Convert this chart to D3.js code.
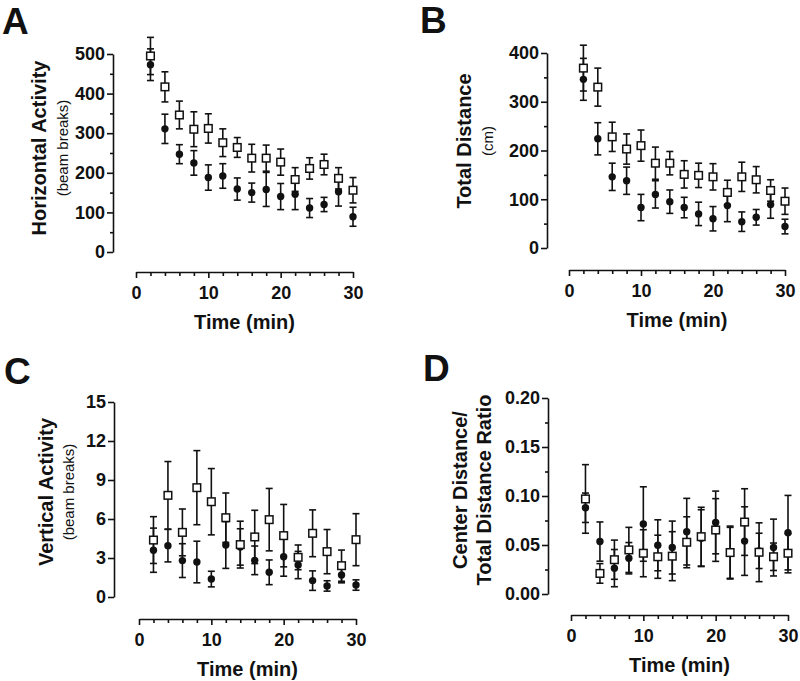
<!DOCTYPE html>
<html><head><meta charset="utf-8">
<script src="https://cdn.jsdelivr.net/npm/d3@7"></script>
<style>
html,body{margin:0;padding:0;background:#fff;}
svg{display:block;font-family:"Liberation Sans",Arial,Helvetica,sans-serif;}
</style></head>
<body><svg id="c" width="800" height="681"></svg>
<script>
// ---- data ----
const times = [2,4,6,8,10,12,14,16,18,20,22,24,26,28,30];
const xTickLabels = [0,10,20,30];

const horizSqMean = [495,417,346,310,312,276,264,237,237,227,183,211,221,186,156];
const horizSqSE   = [47,38,35,44,37,35,25,35,33,33,30,27,26,27,32];
const horizCiMean = [473,311,247,225,188,192,159,150,158,140,146,111,120,152,89];
const horizCiSE   = [40,37,24,31,32,31,28,24,43,33,39,24,18,36,24];
const horizTicks  = [0,100,200,300,400,500];

const distSqMean = [369,330,228,203,210,174,174,151,149,146,114,146,140,118,96];
const distSqSE   = [47,39,30,31,32,33,24,28,25,27,25,30,27,22,27];
const distCiMean = [346,224,146,138,83,110,95,83,70,60,87,54,63,89,44];
const distCiSE   = [43,33,28,28,27,28,24,21,24,25,33,20,16,28,15];
const distTicks  = [0,100,200,300,400];

const vertSqMean = [4.38,7.82,4.97,8.41,7.33,6.1,4.03,4.62,5.95,4.72,3.05,4.9,3.49,2.41,4.41];
const vertSqSE   = [1.8,2.6,1.8,2.85,2.55,1.9,1.8,2.05,2.4,2.4,0.95,1.8,1.7,1.2,2.0];
const vertCiMean = [3.6,3.95,2.8,2.69,1.38,4.0,3.85,2.82,1.9,3.1,2.46,1.26,0.85,1.69,0.92];
const vertCiSE   = [1.7,1.25,1.3,1.6,0.6,1.8,1.4,1.1,0.95,1.5,1.05,0.75,0.4,0.6,0.4];
const vertTicks  = [0,3,6,9,12,15];

const ratioSqMean = [0.097,0.021,0.035,0.045,0.0416,0.038,0.0386,0.0528,0.0585,0.0653,0.0423,0.0734,0.0426,0.038,0.0416];
const ratioSqSE   = [0.035,0.01,0.02,0.023,0.024,0.022,0.025,0.026,0.03,0.032,0.027,0.034,0.03,0.014,0.02];
const ratioCiMean = [0.088,0.0535,0.0264,0.0365,0.0714,0.0497,0.0474,0.0636,0.057,0.073,0.042,0.054,0.044,0.0474,0.0626];
const ratioCiSE   = [0.015,0.02,0.019,0.016,0.038,0.026,0.027,0.034,0.029,0.032,0.026,0.035,0.018,0.029,0.038];
const ratioTicks  = [0,0.05,0.1,0.15,0.2];

// ---- layout ----
const svg = d3.select("#c");
const INK = "#111";

const panels = [
  {letter:"A", lx:2, ly:34, sq:[horizSqMean,horizSqSE], ci:[horizCiMean,horizCiSE], ticks:horizTicks, fmt:d3.format("d"), minorStep:50,
   x0:136, x1:353, xAxisY:272, yAxisX:113, yTop:54, yBot:252,
   labels:[{t:"Horizontal Activity", x:39, size:20, bold:true},{t:"(beam breaks)", x:63, size:15, bold:false}], labelY:148},
  {letter:"B", lx:420, ly:33, sq:[distSqMean,distSqSE], ci:[distCiMean,distCiSE], ticks:distTicks, fmt:d3.format("d"), minorStep:50,
   x0:569, x1:785, xAxisY:270, yAxisX:547, yTop:53, yBot:248,
   labels:[{t:"Total Distance", x:464, size:20, bold:true},{t:"(cm)", x:488, size:15, bold:false}], labelY:141},
  {letter:"C", lx:4, ly:384, sq:[vertSqMean,vertSqSE], ci:[vertCiMean,vertCiSE], ticks:vertTicks, fmt:d3.format("d"), minorStep:null,
   x0:139, x1:356, xAxisY:619, yAxisX:114, yTop:402, yBot:597,
   labels:[{t:"Vertical Activity", x:46, size:20, bold:true},{t:"(beam breaks)", x:69, size:15, bold:false}], labelY:492},
  {letter:"D", lx:423, ly:381, sq:[ratioSqMean,ratioSqSE], ci:[ratioCiMean,ratioCiSE], ticks:ratioTicks, fmt:d3.format(".2f"), minorStep:0.025,
   x0:571, x1:788, xAxisY:615, yAxisX:548, yTop:398, yBot:594,
   labels:[{t:"Center Distance/", x:460, size:20, bold:true},{t:"Total Distance Ratio", x:484, size:20, bold:true}], labelY:490}
];

panels.forEach(p => {
  const g = svg.append("g");
  const yMax = p.ticks[p.ticks.length-1];
  const x = d3.scaleLinear().domain([0,30]).range([p.x0,p.x1]);
  const y = d3.scaleLinear().domain([0,yMax]).range([p.yBot,p.yTop]);

  // panel letter
  g.append("text").attr("x",p.lx).attr("y",p.ly).attr("font-size",37).attr("font-weight","bold").attr("fill",INK).text(p.letter);

  // y axis
  g.append("g").attr("transform",`translate(${p.yAxisX},0)`)
    .call(d3.axisLeft(y).tickValues(p.ticks).tickFormat(p.fmt).tickSize(6).tickSizeOuter(0).tickPadding(2));
  if (p.minorStep) {
    const minor = d3.range(p.minorStep, yMax, p.minorStep*2);
    g.append("g").attr("transform",`translate(${p.yAxisX},0)`)
      .call(d3.axisLeft(y).tickValues(minor).tickFormat("").tickSize(3).tickSizeOuter(0))
      .select(".domain").remove();
  }
  // x axis
  g.append("g").attr("transform",`translate(0,${p.xAxisY})`)
    .call(d3.axisBottom(x).tickValues(xTickLabels).tickFormat(d3.format("d")).tickSize(6).tickSizeOuter(0).tickPadding(8));
  g.append("g").attr("transform",`translate(0,${p.xAxisY})`)
    .call(d3.axisBottom(x).tickValues(times.filter(t=>t%10!==0)).tickFormat("").tickSize(4).tickSizeOuter(0))
    .select(".domain").remove();

  g.selectAll(".domain, .tick line").attr("stroke",INK).attr("stroke-width",1.6);
  g.selectAll(".tick text").attr("font-size",18).attr("font-weight","bold").attr("fill",INK)
    .attr("font-family","\"Liberation Sans\",Arial,sans-serif");

  // x title
  g.append("text").attr("x",(p.x0+p.x1)/2).attr("y",p.xAxisY+57).attr("text-anchor","middle")
    .attr("font-size",20).attr("font-weight","bold").attr("fill",INK).text("Time (min)");

  // y titles
  p.labels.forEach(l => {
    g.append("text").attr("transform",`translate(${l.x},${p.labelY}) rotate(-90)`)
      .attr("text-anchor","middle").attr("dy","0.35em")
      .attr("font-size",l.size).attr("font-weight",l.bold?"bold":"normal").attr("fill",INK).text(l.t);
  });

  // series
  const drawBars = (mean, se) => {
    const eb = g.append("g").attr("stroke",INK).attr("stroke-width",1.6).attr("fill","none");
    times.forEach((t,i) => {
      const cx = x(t), yt = y(mean[i]+se[i]), yb = y(Math.max(0,mean[i]-se[i]));
      eb.append("line").attr("x1",cx).attr("x2",cx).attr("y1",yt).attr("y2",yb);
      eb.append("line").attr("x1",cx-3.5).attr("x2",cx+3.5).attr("y1",yt).attr("y2",yt);
      eb.append("line").attr("x1",cx-3.5).attr("x2",cx+3.5).attr("y1",yb).attr("y2",yb);
    });
  };
  drawBars(p.ci[0], p.ci[1]);
  drawBars(p.sq[0], p.sq[1]);
  g.append("g").selectAll("circle").data(times).join("circle")
    .attr("cx",(t)=>x(t)).attr("cy",(t,i)=>y(p.ci[0][i])).attr("r",3.7).attr("fill",INK);
  g.append("g").selectAll("rect").data(times).join("rect")
    .attr("x",(t)=>x(t)-3.8).attr("y",(t,i)=>y(p.sq[0][i])-3.8).attr("width",7.6).attr("height",7.6)
    .attr("fill","#fff").attr("stroke",INK).attr("stroke-width",1.5);
});
</script></body></html>
